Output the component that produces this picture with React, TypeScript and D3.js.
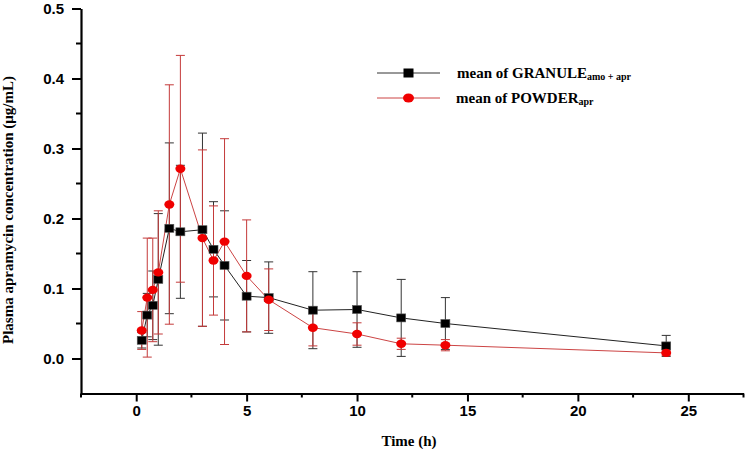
import { useEffect, useRef } from "react";
import * as d3 from "d3";

// sampling times (h)
const times = [0.25, 0.5, 0.75, 1, 1.5, 2, 3, 3.5, 4, 5, 6, 8, 10, 12, 14, 24];

// mean of GRANULE (amo + apr)
const granuleMean = [0.026, 0.062, 0.076, 0.113, 0.186, 0.181, 0.184, 0.156, 0.133, 0.089, 0.087, 0.069, 0.070, 0.058, 0.050, 0.018];
const granuleSd = [0.011, 0.031, 0.049, 0.094, 0.122, 0.095, 0.138, 0.068, 0.078, 0.051, 0.051, 0.055, 0.054, 0.055, 0.037, 0.015];

// mean of POWDER (apr)
const powderMean = [0.040, 0.087, 0.098, 0.123, 0.220, 0.271, 0.172, 0.140, 0.167, 0.118, 0.084, 0.044, 0.035, 0.021, 0.019, 0.008];
const powderSd = [0.027, 0.085, 0.074, 0.088, 0.171, 0.162, 0.126, 0.078, 0.147, 0.080, 0.044, 0.026, 0.016, 0.008, 0.008, 0.004];

const xTicks = [0, 5, 10, 15, 20, 25];
const yTicks = [0.0, 0.1, 0.2, 0.3, 0.4, 0.5];

const W = 745;
const H = 449;

const SERIF = "'Liberation Serif', 'Times New Roman', serif";
const SANS = "'Liberation Sans', Arial, sans-serif";

const BLACK_BAR = "#333333";
const RED_BAR = "#c43a3a";
const RED_LINE = "#cc4444";
const RED_DOT = "#f00000";

export default function App() {
  const svgRef = useRef<SVGSVGElement | null>(null);

  useEffect(() => {
    if (!svgRef.current) return;
    const svg = d3.select(svgRef.current);
    svg.selectAll("*").remove();

    const x = d3.scaleLinear().domain([-2.5, 27.5]).range([81, 743.5]);
    const y = d3.scaleLinear().domain([-0.05, 0.5]).range([393.5, 8.5]);

    const granule = times.map((t, i) => ({ t, v: granuleMean[i], sd: granuleSd[i] }));
    const powder = times.map((t, i) => ({ t, v: powderMean[i], sd: powderSd[i] }));

    // axes
    const xAxis = svg.append("g").attr("transform", `translate(0,${y(-0.05)})`);
    xAxis
      .call(
        d3
          .axisBottom(x)
          .tickValues(xTicks)
          .tickSize(8)
          .tickSizeOuter(0)
          .tickPadding(4)
          .tickFormat((d) => String(d))
      )
      .call((g) => g.select(".domain").attr("stroke-width", 2.2))
      .call((g) => g.selectAll(".tick line").attr("stroke-width", 2))
      .call((g) =>
        g
          .selectAll(".tick text")
          .attr("font-family", SANS)
          .attr("font-weight", "bold")
          .attr("font-size", 15)
          .attr("fill", "#000")
      );
    // minor x ticks
    xAxis
      .selectAll("line.minor")
      .data([-2.5, 2.5, 7.5, 12.5, 17.5, 22.5, 27.5])
      .join("line")
      .attr("class", "minor")
      .attr("x1", (d) => x(d))
      .attr("x2", (d) => x(d))
      .attr("y1", 0)
      .attr("y2", 4)
      .attr("stroke", "#000")
      .attr("stroke-width", 2);

    const yAxis = svg.append("g").attr("transform", `translate(${x(-2.5)},0)`);
    yAxis
      .call(
        d3
          .axisLeft(y)
          .tickValues(yTicks)
          .tickSize(9)
          .tickSizeOuter(0)
          .tickPadding(8)
          .tickFormat(d3.format(".1f"))
      )
      .call((g) => g.select(".domain").attr("stroke-width", 2.2))
      .call((g) => g.selectAll(".tick line").attr("stroke-width", 2))
      .call((g) =>
        g
          .selectAll(".tick text")
          .attr("font-family", SANS)
          .attr("font-weight", "bold")
          .attr("font-size", 15)
          .attr("fill", "#000")
      );
    yAxis
      .selectAll("line.minor")
      .data([0.05, 0.15, 0.25, 0.35, 0.45])
      .join("line")
      .attr("class", "minor")
      .attr("x1", -5)
      .attr("x2", 0)
      .attr("y1", (d) => y(d))
      .attr("y2", (d) => y(d))
      .attr("stroke", "#000")
      .attr("stroke-width", 2);

    // axis titles
    svg
      .append("text")
      .attr("x", 409)
      .attr("y", 446)
      .attr("text-anchor", "middle")
      .attr("font-family", SERIF)
      .attr("font-weight", "bold")
      .attr("font-size", 15)
      .text("Time (h)");

    svg
      .append("text")
      .attr("transform", `translate(13,${210}) rotate(-90)`)
      .attr("text-anchor", "middle")
      .attr("font-family", SERIF)
      .attr("font-weight", "bold")
      .attr("font-size", 15)
      .text("Plasma apramycin concentration (μg/mL)");

    // error bars
    const drawErr = (data: typeof granule, color: string) => {
      const g = svg.append("g").attr("stroke", color).attr("stroke-width", 1).attr("fill", "none");
      const cap = 4.5;
      data.forEach((d) => {
        const cx = x(d.t);
        const top = y(d.v + d.sd);
        const bot = y(Math.max(d.v - d.sd, -0.05));
        g.append("line").attr("x1", cx).attr("x2", cx).attr("y1", top).attr("y2", bot);
        g.append("line").attr("x1", cx - cap).attr("x2", cx + cap).attr("y1", top).attr("y2", top);
        g.append("line").attr("x1", cx - cap).attr("x2", cx + cap).attr("y1", bot).attr("y2", bot);
      });
    };
    drawErr(granule, BLACK_BAR);
    drawErr(powder, RED_BAR);

    const line = d3
      .line<{ t: number; v: number }>()
      .x((d) => x(d.t))
      .y((d) => y(d.v));

    svg
      .append("path")
      .datum(granule)
      .attr("d", line)
      .attr("fill", "none")
      .attr("stroke", "#222")
      .attr("stroke-width", 1);
    svg
      .append("path")
      .datum(powder)
      .attr("d", line)
      .attr("fill", "none")
      .attr("stroke", RED_LINE)
      .attr("stroke-width", 1);

    // markers
    svg
      .append("g")
      .selectAll("rect")
      .data(granule)
      .join("rect")
      .attr("x", (d) => x(d.t) - 4.5)
      .attr("y", (d) => y(d.v) - 4)
      .attr("width", 9)
      .attr("height", 8)
      .attr("fill", "#000")
      .attr("stroke", "#555")
      .attr("stroke-width", 0.6);

    svg
      .append("g")
      .selectAll("ellipse")
      .data(powder)
      .join("ellipse")
      .attr("cx", (d) => x(d.t))
      .attr("cy", (d) => y(d.v))
      .attr("rx", 5)
      .attr("ry", 4.2)
      .attr("fill", RED_DOT);

    // legend
    const legend = svg.append("g");
    const items = [
      { label: "mean of GRANULE", sub: "amo + apr", kind: "square", y: 73, line: "#333", tx: 457 },
      { label: "mean of POWDER", sub: "apr", kind: "circle", y: 98, line: RED_LINE, tx: 456 },
    ];
    items.forEach((it) => {
      legend
        .append("line")
        .attr("x1", 377)
        .attr("x2", 440)
        .attr("y1", it.y)
        .attr("y2", it.y)
        .attr("stroke", it.line)
        .attr("stroke-width", 1);
      if (it.kind === "square") {
        legend.append("rect").attr("x", 403.5).attr("y", it.y - 4.5).attr("width", 10).attr("height", 9).attr("fill", "#000");
      } else {
        legend.append("ellipse").attr("cx", 408.5).attr("cy", it.y).attr("rx", 5.5).attr("ry", 4.5).attr("fill", RED_DOT);
      }
      const t = legend
        .append("text")
        .attr("x", it.tx)
        .attr("y", it.y + 4.5)
        .attr("font-family", SERIF)
        .attr("font-weight", "bold")
        .attr("font-size", 15);
      t.append("tspan").text(it.label);
      t.append("tspan").attr("font-size", 10).attr("dy", 2).text(it.sub);
    });
  }, []);

  return (
    <svg
      ref={svgRef}
      width={W}
      height={H}
      style={{ position: "absolute", left: 0, top: 0, background: "#fff" }}
    />
  );
}
